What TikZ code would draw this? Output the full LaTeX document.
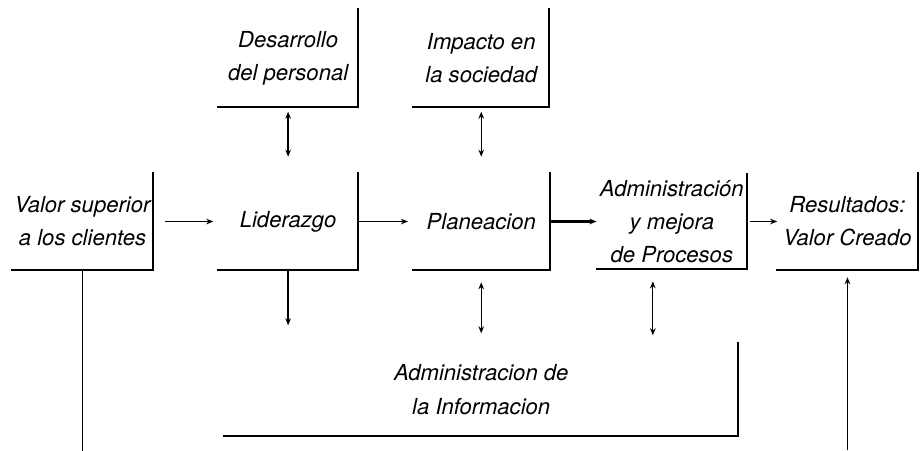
\documentclass[tikz,border=0pt]{standalone}
\usepackage{fontspec}
\setmainfont{TeX Gyre Heros}
\usepackage{tikz}
\usetikzlibrary{positioning,arrows.meta}

\begin{document}
\begin{tikzpicture}[
    x=0.025cm, y=-0.025cm,
    node distance=1.65cm and 1.4cm,
    bloque/.style={inner sep=0pt, minimum width=3.5cm, minimum height=2.425cm,
      align=center, font=\fontsize{15.7}{23.5}\selectfont\itshape},
    borde/.style={line width=1.4pt, line cap=rect},
    flecha/.style={-{Stealth[length=5pt,width=4pt]}, line width=0.9pt},
    doble/.style={{Stealth[length=5pt,width=4pt]}-{Stealth[length=5pt,width=4pt]}, line width=0.9pt}
  ]
    \useasboundingbox (0,0) rectangle (920,450);
    \coordinate (fondo) at (0,450);

    \node[bloque, minimum width=3.525cm] (valor) at (82.5,221.5) {Valor superior\\a los clientes};
    \node[bloque, minimum width=3.475cm, right=1.625cm of valor] (lider) {Liderazgo};
    \node[bloque, minimum width=3.4cm, right=1.375cm of lider] (plan) {Planeacion};
    \node[bloque, minimum width=3.75cm, minimum height=2.375cm, right=1.175cm of plan] (proc) {Administración\\y mejora\\de Procesos};
    \node[bloque, right=0.75cm of proc] (res) {Resultados:\\Valor Creado};
    \node[bloque, above=1.65cm of lider] (desa) {Desarrollo\\del personal};
    \node[bloque, minimum width=3.375cm, above=1.65cm of plan] (impacto) {Impacto en\\la sociedad};
    \node[bloque, minimum width=12.825cm, minimum height=2.3cm, below=1.825cm of plan] (info) {Administracion de\\la Informacion};

    % solo los bordes de abajo y de la derecha
    \foreach \n in {valor,lider,plan,proc,res,desa,impacto,info}
      \draw[borde] (\n.north east) -- (\n.south east) -- (\n.south west);

    \draw[flecha, shorten <=0.3cm, shorten >=0.125cm] (valor) -- (lider);
    \draw[flecha, shorten >=0.125cm] (lider) -- (plan);
    \draw[flecha, line width=1.6pt] (plan) -- (proc);
    \draw[flecha, shorten <=0.075cm] (proc) -- (res);

    \draw[doble, shorten <=0.125cm, shorten >=0.4cm] (lider.north |- desa.south) -- (lider.north);
    \draw[doble, shorten <=0.125cm, shorten >=0.4cm] (plan.north |- impacto.south) -- (plan.north);

    \draw[flecha, shorten >=0.45cm] (lider.south) -- (lider.south |- info.north);
    \draw[doble, shorten <=0.3cm, shorten >=0.25cm] (plan.south) -- (info.north);
    \coordinate (pbajo) at ([xshift=-0.475cm]proc.south);
    \draw[doble, shorten <=0.3cm, shorten >=0.2cm] (pbajo) -- (pbajo |- info.north);

    \draw[borde] (valor.south) -- (valor.south |- fondo);
    \draw[flecha, line width=1.3pt, shorten >=0.175cm] (res.south |- fondo) -- (res.south);
  \end{tikzpicture}
\end{document}
